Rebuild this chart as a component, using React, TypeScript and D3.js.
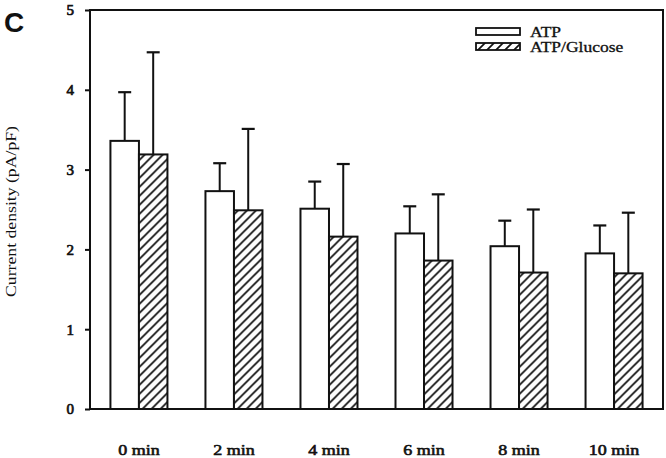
import * as d3 from 'd3';
import { useRef, useEffect } from 'react';

// --- Data ---
const categories = ['0 min', '2 min', '4 min', '6 min', '8 min', '10 min'];
const seriesNames = ['ATP', 'ATP/Glucose'];
const atpMeans = [3.36, 2.73, 2.51, 2.2, 2.04, 1.95];
const atpSd = [0.61, 0.35, 0.34, 0.34, 0.32, 0.35];
const glucoseMeans = [3.19, 2.49, 2.16, 1.86, 1.71, 1.7];
const glucoseSd = [1.28, 1.02, 0.91, 0.83, 0.79, 0.76];
const yTicks = [0, 1, 2, 3, 4, 5];

export default function App() {
  const ref = useRef<SVGSVGElement>(null);

  useEffect(() => {
    const width = 666;
    const height = 458;
    const margin = { top: 10, right: 3, bottom: 49, left: 90 };
    const serif = "Liberation Serif, Times New Roman, serif";
    const ink = '#111';

    const rows = categories.map((c, i) => ({
      cat: c,
      values: [
        { key: seriesNames[0], mean: atpMeans[i], sd: atpSd[i] },
        { key: seriesNames[1], mean: glucoseMeans[i], sd: glucoseSd[i] },
      ],
    }));

    // --- Scales ---
    const x0 = d3.scaleBand()
      .domain(categories)
      .range([margin.left, width - margin.right])
      .paddingInner(0.4)
      .paddingOuter(0.215);

    const x1 = d3.scaleBand()
      .domain(seriesNames)
      .range([0, x0.bandwidth()]);

    const y = d3.scaleLinear()
      .domain([0, 5])
      .range([height - margin.bottom, margin.top]);

    const svg = d3.select(ref.current)
      .attr('width', width)
      .attr('height', height)
      .attr('viewBox', `0 0 ${width} ${height}`);

    svg.selectAll('*').remove();

    // hatch pattern for ATP/Glucose
    const pat = svg.append('defs').append('pattern')
      .attr('id', 'hatch')
      .attr('patternUnits', 'userSpaceOnUse')
      .attr('width', 9)
      .attr('height', 9);
    pat.append('rect').attr('width', 9).attr('height', 9).attr('fill', '#fff');
    pat.append('path')
      .attr('d', 'M0,9 L9,0 M-2,2 L2,-2 M7,11 L11,7')
      .attr('stroke', ink)
      .attr('stroke-width', 1.7);

    const fillFor = (k: string) => (k === seriesNames[0] ? '#fff' : 'url(#hatch)');

    // --- Bars ---
    const groups = svg.append('g')
      .selectAll('g')
      .data(rows)
      .join('g')
      .attr('transform', d => `translate(${x0(d.cat)},0)`);

    groups.selectAll('line.err')
      .data(d => d.values)
      .join('line')
      .attr('class', 'err')
      .attr('x1', d => x1(d.key)! + x1.bandwidth() / 2)
      .attr('x2', d => x1(d.key)! + x1.bandwidth() / 2)
      .attr('y1', d => y(d.mean))
      .attr('y2', d => y(d.mean + d.sd))
      .attr('stroke', ink)
      .attr('stroke-width', 2);

    groups.selectAll('line.cap')
      .data(d => d.values)
      .join('line')
      .attr('class', 'cap')
      .attr('x1', d => x1(d.key)! + x1.bandwidth() / 2 - 6.5)
      .attr('x2', d => x1(d.key)! + x1.bandwidth() / 2 + 6.5)
      .attr('y1', d => y(d.mean + d.sd))
      .attr('y2', d => y(d.mean + d.sd))
      .attr('stroke', ink)
      .attr('stroke-width', 2.2);

    groups.selectAll('rect')
      .data(d => d.values)
      .join('rect')
      .attr('x', d => x1(d.key)!)
      .attr('y', d => y(d.mean))
      .attr('width', x1.bandwidth())
      .attr('height', d => y(0) - y(d.mean))
      .attr('fill', d => fillFor(d.key))
      .attr('stroke', ink)
      .attr('stroke-width', 2);

    // --- Frame & axes ---
    svg.append('rect')
      .attr('x', margin.left)
      .attr('y', margin.top)
      .attr('width', width - margin.right - margin.left)
      .attr('height', y(0) - margin.top)
      .attr('fill', 'none')
      .attr('stroke', ink)
      .attr('stroke-width', 2);

    svg.append('g')
      .attr('transform', `translate(${margin.left},0)`)
      .call(d3.axisLeft(y).tickValues(yTicks).tickSize(5).tickPadding(11).tickFormat(d3.format('d')))
      .call(g => g.select('.domain').remove())
      .call(g => g.selectAll('line').attr('stroke', ink).attr('stroke-width', 2))
      .selectAll('text')
      .attr('font-family', serif)
      .attr('font-size', 15)
      .attr('fill', ink)
      .attr('stroke', ink)
      .attr('stroke-width', 0.7);

    // x category labels (scan is a little wide, so stretch horizontally)
    svg.append('g')
      .selectAll('text')
      .data(categories)
      .join('text')
      .attr('transform', d => `translate(${x0(d)! + x0.bandwidth() / 2},455) scale(1.2,1)`)
      .attr('text-anchor', 'middle')
      .attr('font-family', serif)
      .attr('font-size', 15)
      .attr('fill', ink)
      .attr('stroke', ink)
      .attr('stroke-width', 0.6)
      .text(d => d);

    // y title
    svg.append('text')
      .attr('transform', `translate(16,${(margin.top + y(0)) / 2 + 2}) rotate(-90) scale(1.18,1)`)
      .attr('text-anchor', 'middle')
      .attr('font-family', serif)
      .attr('font-size', 15)
      .attr('fill', ink)
      .text('Current density (pA/pF)');

    // panel letter
    svg.append('text')
      .attr('x', 4)
      .attr('y', 32)
      .attr('font-family', 'Liberation Sans, Arial, sans-serif')
      .attr('font-weight', 'bold')
      .attr('font-size', 28)
      .attr('fill', ink)
      .text('C');

    // --- Legend ---
    const legend = svg.append('g')
      .selectAll('g')
      .data(seriesNames)
      .join('g')
      .attr('transform', (_, i) => `translate(476,${28 + i * 15})`);

    legend.append('rect')
      .attr('width', 44)
      .attr('height', 7)
      .attr('fill', d => fillFor(d))
      .attr('stroke', ink)
      .attr('stroke-width', 1.8);

    legend.append('text')
      .attr('transform', 'translate(54,9) scale(1.25,1)')
      .attr('font-family', serif)
      .attr('font-size', 14)
      .attr('fill', ink)
      .attr('stroke', ink)
      .attr('stroke-width', 0.3)
      .text(d => d);
  }, []);

  return (
    <div style={{ position: 'absolute', left: 0, top: 0, background: '#fff' }}>
      <svg ref={ref}></svg>
    </div>
  );
}
